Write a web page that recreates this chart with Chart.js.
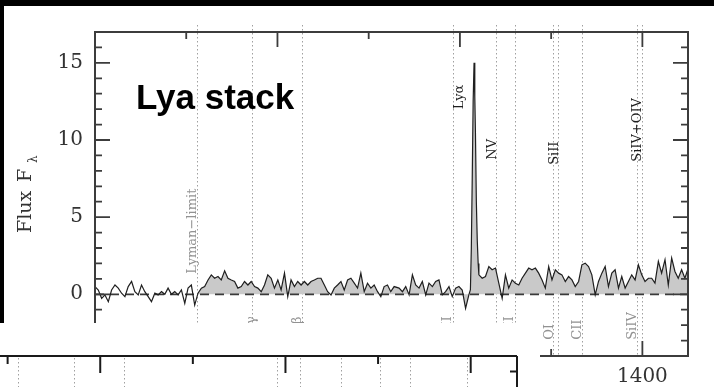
<!DOCTYPE html>
<html>
<head>
<meta charset="utf-8">
<script src="https://cdn.jsdelivr.net/npm/chart.js@4.4.1/dist/chart.umd.min.js"></script>
<style>
  html, body { margin: 0; padding: 0; width: 714px; height: 387px; overflow: hidden; background: #000; position: relative; }
  #sheet { position: absolute; left: 4px; top: 6px; right: 0; bottom: 0; background: #fff; }
  #main { position: absolute; left: 0; top: 0; }
  #lower { position: absolute; left: -110px; top: 323px; background: #fff; }
</style>
</head>
<body>
<div id="sheet"></div>
<canvas id="main" width="714" height="387"></canvas>
<canvas id="lower" width="650" height="64"></canvas>
<script>
// Rest-frame wavelength grid (Angstrom) of the stacked spectrum
const wavelength = [
  800.0, 803.6, 807.3, 810.9, 814.6, 818.2, 821.9, 825.5, 829.1, 832.8,
  836.4, 840.1, 843.7, 847.4, 851.0, 854.6, 858.3, 861.9, 865.6, 869.2,
  872.9, 876.5, 880.1, 883.8, 887.4, 891.1, 894.7, 898.4, 902.0, 905.6,
  909.3, 912.9, 916.6, 920.2, 923.9, 927.5, 931.1, 934.8, 938.4, 942.1,
  945.7, 949.4, 953.0, 956.6, 960.3, 963.9, 967.6, 971.2, 974.9, 978.5,
  982.2, 985.8, 989.4, 993.1, 996.7, 1000.4, 1004.0, 1007.7, 1011.3, 1014.9,
  1018.6, 1022.2, 1025.9, 1029.5, 1033.2, 1036.8, 1040.4, 1044.1, 1047.7, 1051.4,
  1055.0, 1058.7, 1062.3, 1065.9, 1069.6, 1073.2, 1076.9, 1080.5, 1084.2, 1087.8,
  1091.4, 1095.1, 1098.7, 1102.4, 1106.0, 1109.7, 1113.3, 1116.9, 1120.6, 1124.2,
  1127.9, 1133.3, 1137.0, 1140.6, 1144.3, 1147.9, 1151.5, 1155.2, 1158.8, 1162.5,
  1166.1, 1169.8, 1173.4, 1177.0, 1180.7, 1184.3, 1188.0, 1191.6, 1195.3, 1198.9,
  1202.5, 1206.2, 1209.8, 1211.5, 1212.5, 1213.5, 1214.5, 1215.5, 1216.3, 1217.0,
  1218.0, 1219.0, 1220.0, 1220.8, 1224.4, 1228.0, 1231.7, 1235.3, 1239.0, 1242.6,
  1246.3, 1249.9, 1253.5, 1257.2, 1260.8, 1264.5, 1268.1, 1271.8, 1275.4, 1279.0,
  1282.7, 1286.3, 1290.0, 1293.6, 1297.3, 1300.9, 1304.6, 1308.2, 1311.8, 1315.5,
  1319.1, 1322.8, 1326.4, 1330.1, 1333.7, 1337.3, 1341.0, 1344.6, 1348.3, 1351.9,
  1355.6, 1359.2, 1362.8, 1366.5, 1370.1, 1373.8, 1377.4, 1381.1, 1384.7, 1388.3,
  1392.0, 1395.6, 1399.3, 1402.9, 1406.6, 1410.2, 1413.8, 1417.5, 1421.1, 1424.8,
  1428.4, 1432.1, 1435.7, 1439.3, 1443.0, 1446.6, 1450.3
];

// Stacked flux density F_lambda at each wavelength
const flux = [
  0.5, 0.28, -0.26, -0.04, -0.48, 0.28, 0.6, 0.4, 0.07, -0.15,
  0.5, 0.83, 0.17, -0.04, 0.6, 0.17, -0.15, -0.48, 0.07, -0.04,
  0.17, 0.0, 0.4, 0.0, 0.17, -0.04, 0.28, -0.59, 0.4, 0.6,
  -0.7, 0.07, 0.4, 0.5, 0.93, 1.26, 1.04, 1.15, 0.93, 1.52,
  1.04, 0.93, 0.83, 0.4, 0.5, 0.83, 0.6, 0.83, 0.5, 0.4,
  0.17, 0.6, 1.26, 1.04, 0.4, 0.93, 0.28, 1.37, -0.15, 0.93,
  0.5, 0.83, 0.6, 0.83, 0.6, 0.83, 0.93, 1.04, 1.04, 0.6,
  0.17, -0.04, 0.4, 0.6, 0.83, 0.28, 0.93, 1.04, 0.72, 0.4,
  1.37, 0.17, 0.72, 0.4, 0.6, 0.17, -0.15, 0.5, 0.6, 0.17,
  0.5, 0.4, 0.17, 0.5, -0.04, 1.26, 0.6, 0.4, 0.83, -0.04,
  0.72, 0.5, 0.83, 0.93, -0.04, 0.17, 0.5, -0.15, 0.4, 0.5,
  0.28, -0.91, -0.04, 0.3, 3.0, 7.5, 12.5, 15.0, 12.8, 10.5,
  6.0, 3.5, 2.0, 1.26, 1.04, 1.15, 1.8, 1.59, 1.7, 0.72,
  -0.26, 1.26, 0.4, 0.93, 0.72, 0.6, 1.04, 1.37, 1.7, 1.59,
  1.7, 1.37, 0.93, 0.4, 1.8, 0.93, 1.59, 1.37, 1.26, 0.83,
  1.15, 0.93, 0.5, 0.83, 1.91, 2.02, 1.8, 1.26, -0.04, 0.83,
  1.37, 1.8, 0.5, 1.37, 1.59, 0.4, 1.15, 0.4, 0.83, 1.26,
  0.93, 1.91, 1.26, 0.83, 1.04, 1.04, 0.72, 2.13, 1.37, 2.24,
  0.6, 2.35, 1.48, 1.04, 1.59, 1.04, 1.7
];

// Axis ranges and tick labels
const waveRange = [800, 1450];
const fluxRange = [-4, 17];
const waveTickValues = [900, 1000, 1100, 1200, 1300, 1400];
const waveTickLabels = [1000, 1200, 1400];
const fluxTickLabels = [0, 5, 10, 15];
const LYMAN_LIMIT = 912;

// Marked line wavelengths in the upper and lower panels
const lineWaves = [912, 972, 1026.5, 1192, 1240, 1260, 1302.5, 1307.5, 1334, 1394, 1399.5];
const lowerLineWaves = [911, 971.6, 1025.5, 1191, 1215.5, 1260.5, 1301.8, 1334.2, 1396.2];

// Line identifications: name, wavelength of the text column, flux level where the text starts
const lineNames = ['Lyα', 'NV', 'SiII', 'SiIV+OIV', 'Lyman−limit', 'Lyγ', 'Lyβ', 'SiII', 'SiII', 'OI', 'CII', 'SiIV'];
const lineNameWaves = [1200, 1235.7, 1303.7, 1395.2, 907.4, 972.1, 1022.5, 1187, 1255, 1298.2, 1329.4, 1389.7];
const lineNameLevels = [12.0, 8.72, 8.39, 8.59, 1.33, -2.95, -2.95, -2.95, -2.95, -2.95, -2.95, -2.95];
const lineNameFaint = [false, false, false, false, true, true, true, true, true, true, true, true];

const SERIF = "'DejaVu Serif', 'Liberation Serif', serif";

const spectrum = wavelength.map((w, i) => ({ x: w, y: flux[i] }));
const ionizing = spectrum.filter(p => p.x >= LYMAN_LIMIT);
const zeroLevel = [{ x: waveRange[0], y: 0 }, { x: waveRange[1], y: 0 }];

function dottedVerticals(ctx, xScale, waves, top, bottom) {
  ctx.save();
  ctx.strokeStyle = '#a0a0a0';
  ctx.lineWidth = 1;
  ctx.setLineDash([1.5, 2.5]);
  waves.forEach(w => {
    const px = Math.round(xScale.getPixelForValue(w)) + 0.5;
    ctx.beginPath();
    ctx.moveTo(px, top);
    ctx.lineTo(px, bottom);
    ctx.stroke();
  });
  ctx.restore();
}

const spectrumDecor = {
  id: 'spectrumDecor',
  beforeDatasetsDraw(chart) {
    const { ctx, chartArea: a, scales: { x } } = chart;
    dottedVerticals(ctx, x, lineWaves, a.top - 7, a.bottom);
  },
  afterDatasetsDraw(chart) {
    const { ctx, chartArea: a, scales: { x, y } } = chart;
    ctx.save();
    // frame
    ctx.strokeStyle = '#3c3c3c';
    ctx.lineWidth = 2;
    ctx.strokeRect(a.left, a.top, a.right - a.left, a.bottom - a.top);
    // inward ticks on left and right
    ctx.lineWidth = 1.8;
    for (let v = fluxRange[0]; v <= fluxRange[1]; v++) {
      const py = y.getPixelForValue(v);
      const len = fluxTickLabels.includes(v) ? 15 : 7;
      ctx.beginPath();
      ctx.moveTo(a.left, py); ctx.lineTo(a.left + len, py);
      ctx.moveTo(a.right, py); ctx.lineTo(a.right - len, py);
      ctx.stroke();
    }
    // inward ticks on top and bottom
    waveTickValues.forEach(v => {
      const px = x.getPixelForValue(v);
      const len = waveTickLabels.includes(v) ? 15 : 7;
      ctx.beginPath();
      ctx.moveTo(px, a.top); ctx.lineTo(px, a.top + len);
      ctx.moveTo(px, a.bottom); ctx.lineTo(px, a.bottom - len);
      ctx.stroke();
    });
    // line identifications
    ctx.font = '13px ' + SERIF;
    ctx.textAlign = 'left';
    ctx.textBaseline = 'middle';
    lineNames.forEach((name, i) => {
      const px = x.getPixelForValue(lineNameWaves[i]);
      const py = y.getPixelForValue(lineNameLevels[i]);
      ctx.fillStyle = lineNameFaint[i] ? '#929292' : '#1e1e1e';
      ctx.save();
      ctx.translate(px, py);
      ctx.rotate(-Math.PI / 2);
      ctx.fillText(name, 0, 0);
      ctx.restore();
    });
    ctx.restore();
  },
  afterDraw(chart) {
    const { ctx } = chart;
    ctx.save();
    // panel title
    ctx.font = "bold 35px 'Liberation Sans', Arial, sans-serif";
    ctx.fillStyle = '#000';
    ctx.textAlign = 'left';
    ctx.textBaseline = 'alphabetic';
    ctx.fillText('Lya stack', 136, 108.5);
    // y-axis title with subscript lambda
    ctx.translate(31, 233);
    ctx.rotate(-Math.PI / 2);
    ctx.fillStyle = '#333';
    ctx.font = '19px ' + SERIF;
    ctx.fillText('Flux', 0, 0);
    ctx.fillText('F', 51, 0);
    ctx.font = '12px ' + SERIF;
    ctx.fillText('λ', 70, 6);
    ctx.restore();
  }
};

new Chart(document.getElementById('main'), {
  type: 'line',
  data: {
    datasets: [
      { data: ionizing, fill: 'origin', backgroundColor: '#c9c9c9', borderColor: 'rgba(0,0,0,0)', borderWidth: 0, pointRadius: 0, tension: 0, order: 3 },
      { data: zeroLevel, fill: false, borderColor: '#3a3a3a', borderWidth: 1.7, borderDash: [9, 6], pointRadius: 0, order: 2 },
      { data: spectrum, fill: false, borderColor: '#1f1f1f', borderWidth: 1.2, pointRadius: 0, tension: 0, order: 1 }
    ]
  },
  options: {
    responsive: false,
    animation: false,
    devicePixelRatio: 1,
    layout: { padding: { top: 32, right: 26, left: 0, bottom: 0 } },
    plugins: { legend: { display: false }, tooltip: { enabled: false } },
    scales: {
      x: {
        type: 'linear', min: waveRange[0], max: waveRange[1],
        grid: { display: false, drawTicks: false }, border: { display: false },
        ticks: { font: { family: SERIF, size: 20 }, color: '#333', padding: 9, maxRotation: 0, autoSkip: false, callback: v => String(v) },
        afterBuildTicks: s => { s.ticks = waveTickLabels.map(v => ({ value: v })); },
        afterFit: s => { s.height = 31; }
      },
      y: {
        type: 'linear', min: fluxRange[0], max: fluxRange[1],
        grid: { display: false, drawTicks: false }, border: { display: false },
        ticks: { font: { family: SERIF, size: 20 }, color: '#333', padding: 12, callback: v => String(v) },
        afterBuildTicks: s => { s.ticks = fluxTickLabels.map(v => ({ value: v })); },
        afterFit: s => { s.width = 95; }
      }
    }
  },
  plugins: [spectrumDecor]
});

// Lower panel: only its upper frame edge is in view
const lowerDecor = {
  id: 'lowerDecor',
  afterDraw(chart) {
    const { ctx, chartArea: a, scales: { x, y } } = chart;
    dottedVerticals(ctx, x, lowerLineWaves, a.top + 2, a.bottom);
    ctx.save();
    ctx.strokeStyle = '#1a1a1a';
    ctx.lineWidth = 2;
    ctx.beginPath();
    ctx.moveTo(0, a.top); ctx.lineTo(a.right, a.top);
    ctx.moveTo(a.right, a.top); ctx.lineTo(a.right, a.bottom);
    ctx.stroke();
    waveTickValues.forEach(v => {
      const px = x.getPixelForValue(v);
      const len = waveTickLabels.includes(v) ? 17 : 8;
      ctx.beginPath();
      ctx.moveTo(px, a.top); ctx.lineTo(px, a.top + len);
      ctx.stroke();
    });
    const py = y.getPixelForValue(16);
    ctx.beginPath();
    ctx.moveTo(a.right, py); ctx.lineTo(a.right - 7, py);
    ctx.stroke();
    ctx.restore();
  }
};

new Chart(document.getElementById('lower'), {
  type: 'line',
  data: { datasets: [] },
  options: {
    responsive: false,
    animation: false,
    devicePixelRatio: 1,
    layout: { padding: { left: 25, right: 23, top: 33, bottom: 0 } },
    plugins: { legend: { display: false }, tooltip: { enabled: false } },
    scales: {
      x: { type: 'linear', min: waveRange[0], max: waveRange[1], display: false },
      y: { type: 'linear', min: 15, max: 17, display: false }
    }
  },
  plugins: [lowerDecor]
});
</script>
</body>
</html>
